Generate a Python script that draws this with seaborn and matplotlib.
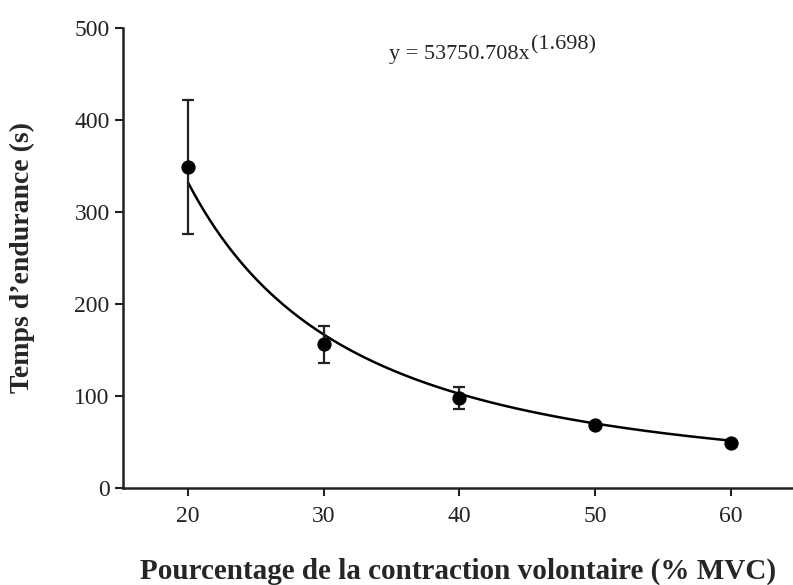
import numpy as np
import pandas as pd
import matplotlib
matplotlib.use("Agg")
import matplotlib.pyplot as plt
import seaborn as sns

# data
mvc = [20, 30, 40, 50, 60]
endurance = [349, 156, 98, 68, 49]
endurance_sd = [73, 20, 12, 0, 0]

# fitted power law printed on the chart
fit_a = 53750.708
fit_b = -1.698

x_ticks = [20, 30, 40, 50, 60]
y_ticks = [0, 100, 200, 300, 400, 500]

sns.set_theme(style="ticks")
plt.rcParams["font.family"] = ["Liberation Serif", "DejaVu Serif"]

df = pd.DataFrame({"mvc": mvc, "endurance": endurance, "sd": endurance_sd})
xs = np.linspace(min(mvc), max(mvc), 200)
fit_df = pd.DataFrame({"mvc": xs, "endurance": fit_a * xs ** fit_b})

fig = plt.figure(figsize=(7.93, 5.85), dpi=100)
ax = fig.add_axes([0.155, 0.166, 0.845, 0.786])

sns.lineplot(data=fit_df, x="mvc", y="endurance", color="black", linewidth=1.8, ax=ax)
eb = df[df["sd"] > 0]
ax.errorbar(eb["mvc"], eb["endurance"], yerr=eb["sd"], fmt="none",
            ecolor="#222222", elinewidth=1.6, capsize=4.5, capthick=1.6)
sns.scatterplot(data=df, x="mvc", y="endurance", color="black", s=90,
                edgecolor="black", zorder=5, ax=ax)

ax.set_xlim(15.2, 64.6)
ax.set_ylim(0, 500)
ax.set_xticks(x_ticks)
ax.set_yticks(y_ticks)
ax.tick_params(axis="both", labelsize=17, length=6, width=1.5, colors="#222222")
ax.tick_params(axis="x", pad=7)
for s in ["left", "bottom"]:
    ax.spines[s].set_linewidth(1.8)
    ax.spines[s].set_color("#222222")
sns.despine(ax=ax)

ax.set_xlabel("Pourcentage de la contraction volontaire (% MVC)",
              fontsize=21, fontweight="bold", labelpad=22)
ax.set_ylabel("Temps d\u2019endurance (s)", fontsize=20, fontweight="bold", labelpad=28)

eq = ax.text(34.8, 466, "y = 53750.708x", fontsize=16, ha="left", va="baseline")
ax.annotate("(1.698)", xy=(1, 0), xycoords=eq, xytext=(1, 11),
            textcoords="offset points", fontsize=16, ha="left", va="baseline")

fig.savefig("out.png", dpi=100)
